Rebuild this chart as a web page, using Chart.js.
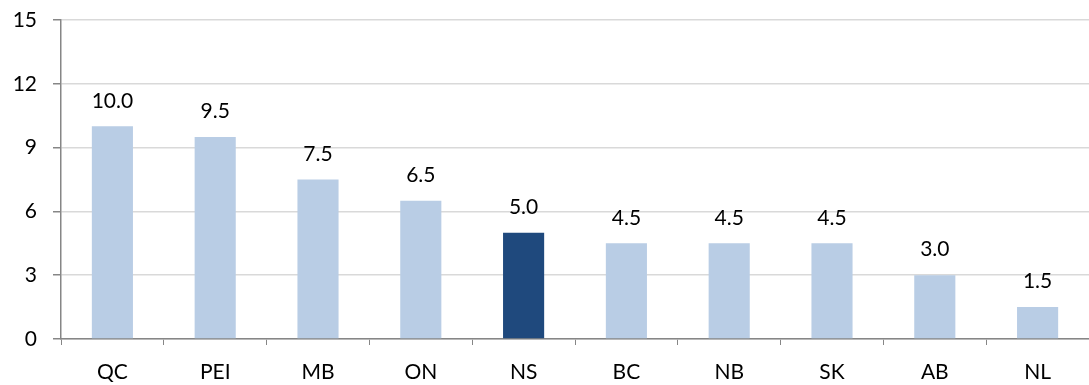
<!DOCTYPE html>
<html>
<head>
<meta charset="utf-8">
<script src="https://cdn.jsdelivr.net/npm/chart.js@4"></script>
<style>
  html, body { margin: 0; padding: 0; background: #fff; }
  #wrap { width: 1089px; height: 385px; }
</style>
</head>
<body>
<div id="wrap"><canvas id="chart" width="1089" height="385"></canvas></div>
<script>
const provinces = ["QC", "PEI", "MB", "ON", "NS", "BC", "NB", "SK", "AB", "NL"];
const values = [10.0, 9.5, 7.5, 6.5, 5.0, 4.5, 4.5, 4.5, 3.0, 1.5];
const highlight = "NS";

const FONT = "Lato, 'Open Sans', sans-serif";

const barLabels = {
    id: "barLabels",
    afterDatasetsDraw(chart) {
        const ctx = chart.ctx;
        const meta = chart.getDatasetMeta(0);
        ctx.save();
        ctx.font = "21px " + FONT;
        ctx.fillStyle = "#000";
        ctx.textAlign = "center";
        ctx.textBaseline = "bottom";
        meta.data.forEach((bar, i) => {
            ctx.fillText(values[i].toFixed(1), bar.x, bar.y - 15);
        });
        ctx.restore();
    }
};

const ctx = document.getElementById("chart").getContext("2d");
new Chart(ctx, {
    type: "bar",
    data: {
        labels: provinces,
        datasets: [{
            data: values,
            backgroundColor: provinces.map(p => p === highlight ? "#1F497D" : "#B9CDE5"),
            categoryPercentage: 1.0,
            barPercentage: 0.4
        }]
    },
    options: {
        responsive: false,
        animation: false,
        layout: { padding: { top: 20, right: 0, left: 0, bottom: 0 } },
        plugins: { legend: { display: false }, tooltip: { enabled: false } },
        scales: {
            x: {
                offset: true,
                grid: { offset: true, drawOnChartArea: false, drawTicks: true, tickLength: 6, color: "#868686" },
                border: { color: "#868686", width: 1.5 },
                ticks: { color: "#000", font: { family: FONT, size: 21 }, padding: 15 },
                afterFit(scale) { scale.height = 46; scale.paddingLeft = 0; scale.paddingRight = 0; }
            },
            y: {
                min: 0,
                max: 15,
                ticks: { stepSize: 3, color: "#000", font: { family: FONT, size: 21 }, padding: 16 },
                grid: { color: "#D9D9D9", lineWidth: 1.5, tickLength: 8, tickColor: "#868686" },
                border: { color: "#868686", width: 1.5 },
                afterFit(scale) { scale.width = 61; scale.paddingTop = 0; scale.paddingBottom = 0; }
            }
        }
    },
    plugins: [barLabels]
});
</script>
</body>
</html>
